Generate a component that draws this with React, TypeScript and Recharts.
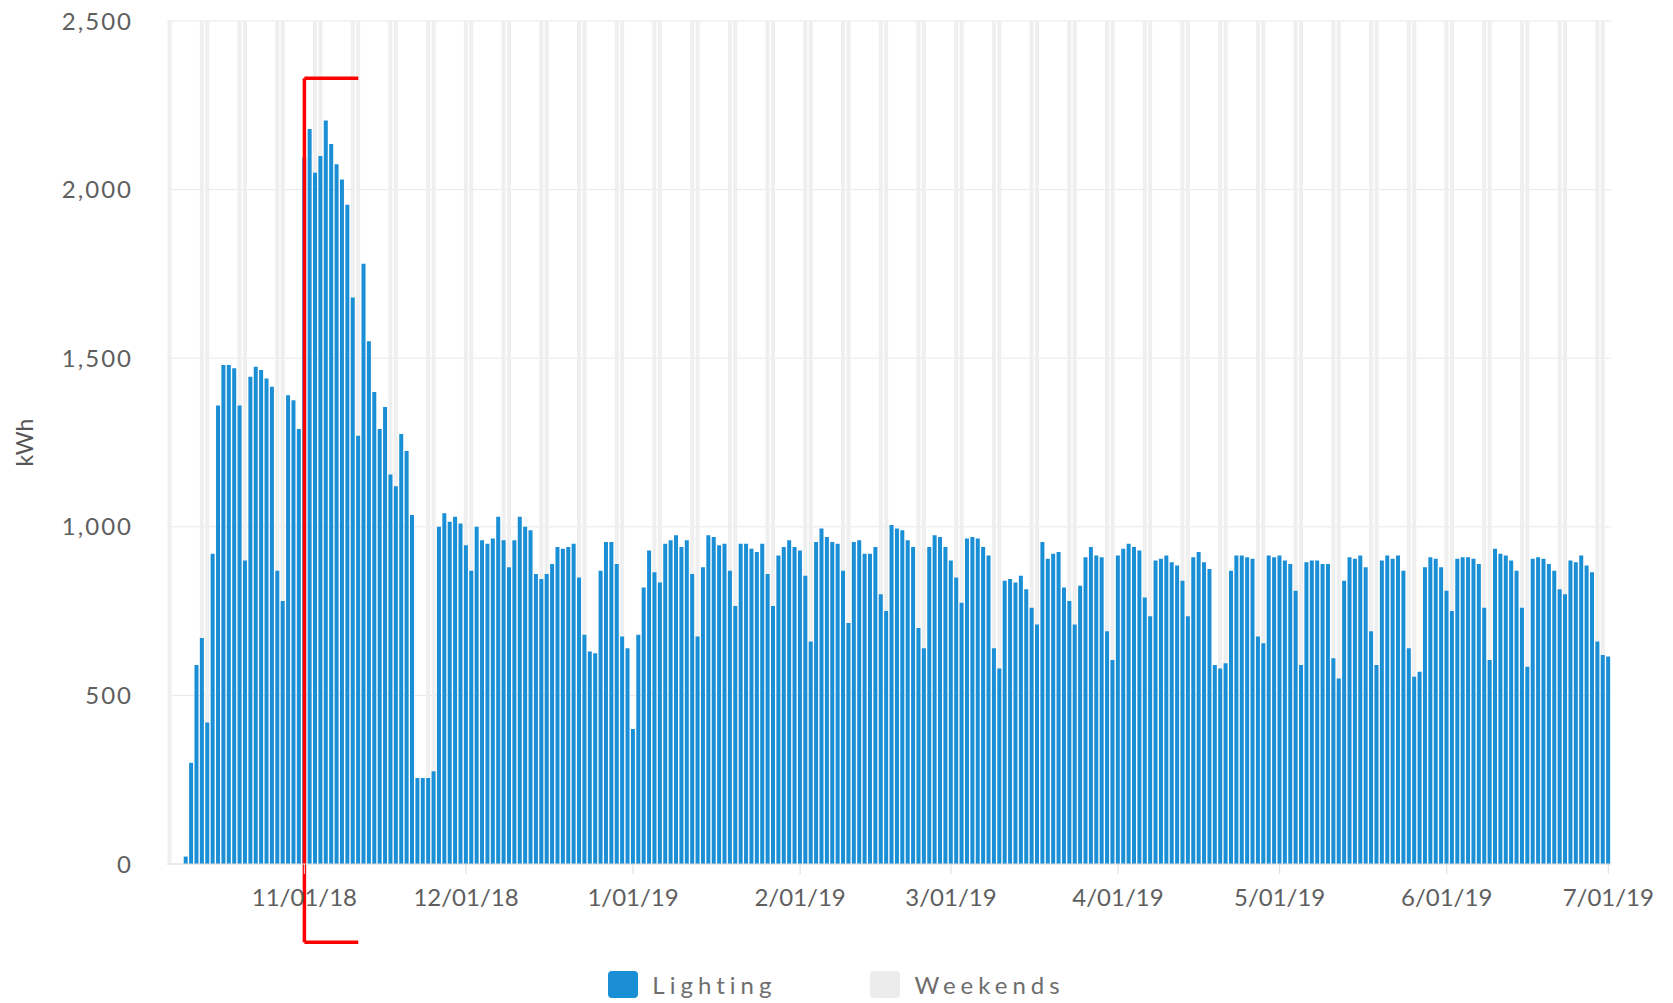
import React from "react";
import {
  BarChart,
  Bar,
  XAxis,
  YAxis,
  CartesianGrid,
  Legend,
  ReferenceLine,
} from "recharts";

// daily lighting kWh, one array per month (Oct starts on the 7th)
const oct2018 = [0, 0, 0, 22, 300, 590, 670, 420, 920, 1360, 1480, 1480, 1470, 1360, 900, 1445, 1475, 1465, 1440, 1415, 870, 780, 1390, 1375, 1290];
const nov2018 = [2095, 2180, 2050, 2100, 2205, 2135, 2075, 2030, 1955, 1680, 1270, 1780, 1550, 1400, 1290, 1355, 1155, 1120, 1275, 1225, 1035, 255, 255, 255, 275, 1000, 1040, 1015, 1030, 1010];
const dec2018 = [945, 870, 1000, 960, 950, 965, 1030, 960, 880, 960, 1030, 1000, 990, 860, 845, 860, 890, 940, 935, 940, 950, 850, 680, 630, 625, 870, 955, 955, 890, 675, 640];
const jan2019 = [400, 680, 820, 930, 865, 835, 950, 960, 975, 940, 960, 860, 675, 880, 975, 970, 945, 950, 870, 765, 950, 950, 935, 925, 950, 860, 765, 915, 940, 960, 940];
const feb2019 = [930, 855, 660, 955, 995, 970, 955, 950, 870, 715, 955, 960, 920, 920, 940, 800, 750, 1005, 995, 990, 960, 940, 700, 640, 940, 975, 970, 940];
const mar2019 = [900, 850, 775, 965, 970, 965, 940, 915, 640, 580, 840, 845, 835, 855, 815, 760, 710, 955, 905, 920, 925, 820, 780, 710, 825, 910, 940, 915, 910, 690, 605];
const apr2019 = [915, 935, 950, 940, 930, 790, 735, 900, 905, 915, 895, 885, 840, 735, 910, 925, 895, 875, 590, 580, 595, 870, 915, 915, 910, 905, 675, 655, 915, 910];
const may2019 = [915, 900, 890, 810, 590, 895, 900, 900, 890, 890, 610, 550, 840, 910, 905, 915, 880, 690, 590, 900, 915, 905, 915, 870, 640, 555, 570, 880, 910, 905, 880];
const jun2019 = [810, 750, 905, 910, 910, 905, 890, 760, 605, 935, 920, 915, 900, 870, 760, 585, 905, 910, 905, 890, 870, 815, 800, 900, 895, 915, 885, 865, 660, 620];
const jul2019 = [615];

const months = [
  { year: 2018, month: 10, firstDay: 7, values: oct2018 },
  { year: 2018, month: 11, firstDay: 1, values: nov2018 },
  { year: 2018, month: 12, firstDay: 1, values: dec2018 },
  { year: 2019, month: 1, firstDay: 1, values: jan2019 },
  { year: 2019, month: 2, firstDay: 1, values: feb2019 },
  { year: 2019, month: 3, firstDay: 1, values: mar2019 },
  { year: 2019, month: 4, firstDay: 1, values: apr2019 },
  { year: 2019, month: 5, firstDay: 1, values: may2019 },
  { year: 2019, month: 6, firstDay: 1, values: jun2019 },
  { year: 2019, month: 7, firstDay: 1, values: jul2019 },
];

const monthTicks = [
  "2018-11-01",
  "2018-12-01",
  "2019-01-01",
  "2019-02-01",
  "2019-03-01",
  "2019-04-01",
  "2019-05-01",
  "2019-06-01",
  "2019-07-01",
];
const yTicks = [0, 500, 1000, 1500, 2000, 2500];
const weekendHeight = 2500;

// red bracket drawn over the chart
const bracketDays = ["2018-11-01", "2018-11-11"];
const bracketTop = 2330;
const bracketBottom = -232;

const pad = (n: number) => String(n).padStart(2, "0");

const data = months.flatMap((m) =>
  m.values.map((v, i) => {
    const day = m.firstDay + i;
    const dow = new Date(Date.UTC(m.year, m.month - 1, day)).getUTCDay();
    return {
      date: `${m.year}-${pad(m.month)}-${pad(day)}`,
      lighting: v,
      weekend: dow === 0 || dow === 6 ? weekendHeight : null,
    };
  })
);

const fmtDate = (d: string) => {
  const [y, m, dd] = d.split("-");
  return `${parseInt(m, 10)}/${dd}/${y.slice(2)}`;
};

const KwhLabel = (props: any) => {
  const vb = props.viewBox || { x: 0, y: 0, height: 0 };
  const x = vb.x + 24;
  const y = vb.y + vb.height / 2;
  return (
    <text
      x={x}
      y={y}
      transform={`rotate(-90, ${x}, ${y})`}
      textAnchor="middle"
      dominantBaseline="central"
      fill="#555"
      fontSize={23}
    >
      kWh
    </text>
  );
};

const legendOrder = ["Lighting", "Weekends"];

const renderLegend = (props: any) => {
  const items = [...(props.payload || [])].sort(
    (a: any, b: any) => legendOrder.indexOf(a.value) - legendOrder.indexOf(b.value)
  );
  return (
    <div
      style={{
        display: "flex",
        justifyContent: "center",
        alignItems: "center",
        height: 40,
      }}
    >
      {items.map((entry: any, i: number) => (
        <div
          key={entry.value}
          style={{ display: "flex", alignItems: "center", marginLeft: i ? 94 : 0 }}
        >
          <span
            style={{
              display: "inline-block",
              width: 30,
              height: 27,
              borderRadius: 4,
              background: entry.value === "Weekends" ? "#ececec" : entry.color,
              marginRight: 14,
            }}
          />
          <span style={{ fontSize: 24, letterSpacing: 5, color: "#6e6e6e" }}>
            {entry.value}
          </span>
        </div>
      ))}
    </div>
  );
};

const App: React.FC = () => {
  return (
    <div style={{ width: 1673, height: 1003, fontFamily: "Lato", position: "relative" }}>
      <style>{"body{margin:0;overflow:hidden}"}</style>
      <BarChart
        width={1673}
        height={1003}
        data={data}
        margin={{ top: 21, right: 62, left: 0, bottom: 39 }}
        barCategoryGap="10%"
      >
        <CartesianGrid xAxisId="main" vertical={false} stroke="#e8e8e8" />
        <XAxis
          xAxisId="main"
          dataKey="date"
          ticks={monthTicks}
          interval={0}
          tickFormatter={fmtDate}
          height={60}
          tickSize={10}
          tickMargin={15}
          axisLine={{ stroke: "#e0e0e0" }}
          tickLine={{ stroke: "#dcdcdc" }}
          tick={{ fill: "#5e5e5e", fontSize: 24 }}
        />
        <XAxis xAxisId="bg" dataKey="date" hide height={0} />
        <YAxis
          width={167}
          domain={[0, 2500]}
          ticks={yTicks}
          allowDataOverflow
          axisLine={false}
          tickLine={false}
          tickSize={0}
          tickMargin={34}
          tickFormatter={(v: number) => v.toLocaleString("en-US")}
          tick={{ fill: "#5e5e5e", fontSize: 24, letterSpacing: 2 }}
          label={<KwhLabel />}
        />
        <Bar
          xAxisId="bg"
          dataKey="weekend"
          name="Weekends"
          fill="#efefef"
          isAnimationActive={false}
        />
        <Bar
          xAxisId="main"
          dataKey="lighting"
          name="Lighting"
          fill="#1a8fd5"
          isAnimationActive={false}
        />
        <ReferenceLine
          xAxisId="main"
          ifOverflow="visible"
          stroke="#ff0000"
          strokeWidth={3.5}
          segment={[
            { x: bracketDays[0], y: bracketTop },
            { x: bracketDays[0], y: bracketBottom },
          ]}
        />
        <ReferenceLine
          xAxisId="main"
          ifOverflow="visible"
          stroke="#ff0000"
          strokeWidth={3.5}
          segment={[
            { x: bracketDays[0], y: bracketTop },
            { x: bracketDays[1], y: bracketTop },
          ]}
        />
        <ReferenceLine
          xAxisId="main"
          ifOverflow="visible"
          stroke="#ff0000"
          strokeWidth={3.5}
          segment={[
            { x: bracketDays[0], y: bracketBottom },
            { x: bracketDays[1], y: bracketBottom },
          ]}
        />
        <Legend
          content={renderLegend}
          wrapperStyle={{ top: 964, bottom: "auto", left: 0, width: "100%", height: 40 }}
        />
      </BarChart>
    </div>
  );
};

export default App;
